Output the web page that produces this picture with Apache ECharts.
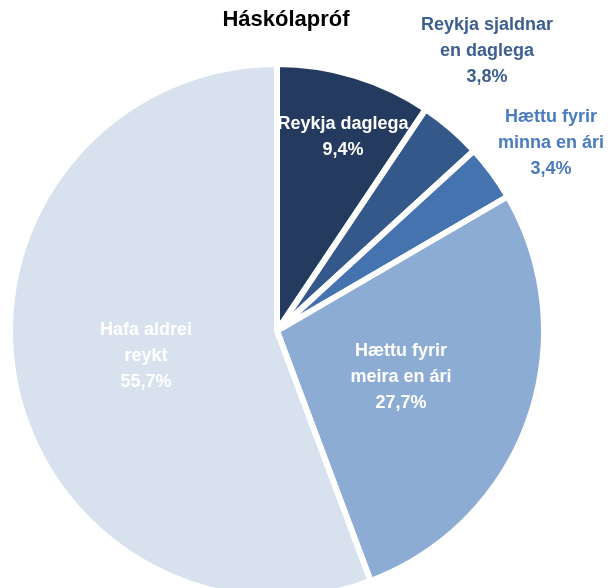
<!DOCTYPE html>
<html>
<head>
<meta charset="utf-8">
<script src="https://cdn.jsdelivr.net/npm/echarts@6/dist/echarts.min.js"></script>
<style>
  html, body { margin: 0; padding: 0; background: #fff; }
  #chart { width: 610px; height: 588px; }
</style>
</head>
<body>
<div id="chart"></div>
<script>
// region 数据
const categories = [
  'Reykja daglega',
  'Reykja sjaldnar\nen daglega',
  'Hættu fyrir\nminna en ári',
  'Hættu fyrir\nmeira en ári',
  'Hafa aldrei\nreykt',
]
const shares = [9.4, 3.8, 3.4, 27.7, 55.7]
const chartTitle = 'Háskólapróf'
// endregion

// region 样式
const fontFamily = '"Liberation Sans", Arial, sans-serif'
const sliceColors = ['#243A5E', '#34588A', '#4573B0', '#8DACD3', '#D7E2EE']
const labelColors = ['#ffffff', '#3C5F8F', '#4A7CBE', '#ffffff', '#ffffff']
const labelPos = [
  [343, 137],
  [487, 51],
  [551, 143],
  [401, 377],
  [146, 356],
]
// endregion

const chart = echarts.init(document.getElementById('chart'))

const option = {
  animation: false,
  title: {
    text: chartTitle,
    left: 281,
    top: 4,
    textAlign: 'center',
    textStyle: {
      fontFamily: fontFamily,
      fontSize: 22,
      fontWeight: 'bold',
      color: '#000',
    },
  },
  series: [
    {
      type: 'pie',
      center: [277, 331],
      radius: 267,
      startAngle: 90,
      clockwise: true,
      avoidLabelOverlap: false,
      itemStyle: {
        borderColor: '#fff',
        borderWidth: 6,
      },
      labelLine: { show: false },
      label: {
        show: true,
        position: 'inner',
        overflow: 'none',
        fontFamily: fontFamily,
        fontSize: 18,
        fontWeight: 'bold',
        lineHeight: 26,
        align: 'center',
        formatter: (p) => p.name + '\n' + String(p.value).replace('.', ',') + '%',
      },
      labelLayout: (params) => ({
        x: labelPos[params.dataIndex][0],
        y: labelPos[params.dataIndex][1],
        align: 'center',
        verticalAlign: 'middle',
        hideOverlap: false,
      }),
      emphasis: { disabled: true },
      data: categories.map((name, i) => ({
        name: name,
        value: shares[i],
        itemStyle: { color: sliceColors[i] },
        label: { color: labelColors[i] },
      })),
    },
  ],
}

chart.setOption(option)
</script>
</body>
</html>
